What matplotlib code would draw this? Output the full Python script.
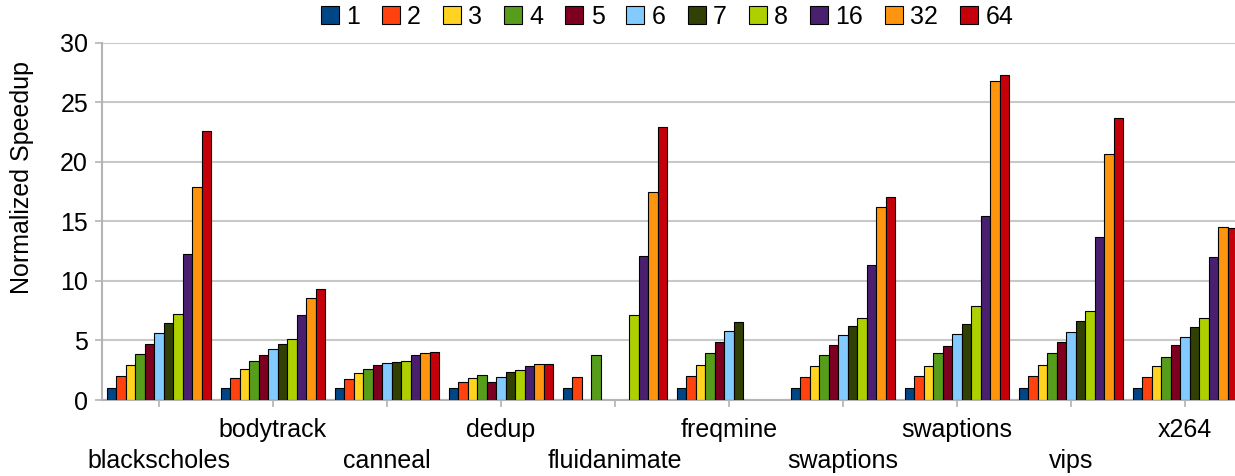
import numpy as np
import matplotlib
matplotlib.use("Agg")
import matplotlib.pyplot as plt

plt.rcParams['font.family'] = ['Liberation Sans', 'DejaVu Sans']

categories = ["blackscholes", "bodytrack", "canneal", "dedup", "fluidanimate",
              "freqmine", "swaptions", "swaptions", "vips", "x264"]
thread_labels = ["1", "2", "3", "4", "5", "6", "7", "8", "16", "32", "64"]

nan = np.nan
blackscholes = [1.0, 1.99, 2.91, 3.83, 4.73, 5.63, 6.44, 7.25, 12.23, 17.88, 22.59]
bodytrack    = [1.0, 1.85, 2.57, 3.25, 3.81, 4.28, 4.70, 5.09, 7.11, 8.59, 9.29]
canneal      = [1.0, 1.76, 2.24, 2.63, 2.91, 3.08, 3.22, 3.30, 3.81, 3.97, 4.06]
dedup        = [1.0, 1.54, 1.88, 2.07, 1.48, 1.96, 2.32, 2.49, 2.83, 2.99, 2.99]
fluidanimate = [1.0, 1.90, nan, 3.75, nan, nan, nan, 7.11, 12.06, 17.44, 22.89]
freqmine     = [1.0, 1.99, 2.94, 3.92, 4.84, 5.77, 6.58, nan, nan, nan, nan]
swaptions_a  = [1.0, 1.96, 2.88, 3.75, 4.59, 5.43, 6.24, 6.91, 11.33, 16.20, 17.04]
swaptions_b  = [1.0, 1.99, 2.88, 3.97, 4.51, 5.51, 6.38, 7.86, 15.42, 26.78, 27.26]
vips         = [1.0, 1.99, 2.97, 3.92, 4.84, 5.74, 6.61, 7.47, 13.66, 20.65, 23.65]
x264         = [1.0, 1.90, 2.85, 3.61, 4.59, 5.29, 6.10, 6.86, 11.98, 14.50, 14.41]

colors = ["#004586", "#ff420e", "#ffd320", "#579d1c", "#7e0021", "#83caff",
          "#314004", "#aecf00", "#4b1f6f", "#ff950e", "#c5000b"]

data = np.array([blackscholes, bodytrack, canneal, dedup, fluidanimate,
                 freqmine, swaptions_a, swaptions_b, vips, x264], dtype=float)

W, H = 1235, 476
FS = 18
AX_H = 357.3
fig = plt.figure(figsize=(W / 100, H / 100), dpi=100)
ax = fig.add_axes([102 / W, 76 / H, 1140 / W, AX_H / H])

n_series = len(thread_labels)
group_w = 0.92
bw = group_w / n_series
x = np.arange(len(categories))
handles = []
for j in range(n_series):
    pos = x - group_w / 2 + bw * (j + 0.5)
    b = ax.bar(pos, data[:, j], width=bw, color=colors[j], edgecolor="black",
               linewidth=0.8, label=thread_labels[j], zorder=3)
    handles.append(b)

ax.set_xlim(-0.5, len(categories) - 0.5)
ax.set_ylim(0, 30)
ax.set_yticks(np.arange(0, 31, 5))
ax.yaxis.grid(True, color="#c8c8c8", linewidth=1.5, zorder=0)
ax.set_axisbelow(True)
for s in ["top", "right"]:
    ax.spines[s].set_visible(False)
for s in ["left", "bottom"]:
    ax.spines[s].set_color("#b4b4b4")
    ax.spines[s].set_linewidth(1.5)
ax.tick_params(axis="y", length=5, width=1.2, color="#b4b4b4", labelsize=FS, pad=5)
ax.tick_params(axis="x", length=5, width=1.2, color="#b4b4b4", labelsize=FS, pad=8)
ax.set_xticks(x)
ax.set_xticklabels([""] * len(categories))

# staggered category labels (two rows)
upper_y = -37 / AX_H
lower_y = -68 / AX_H
trans = ax.get_xaxis_transform()
for i, c in enumerate(categories):
    ax.text(x[i], lower_y if i % 2 == 0 else upper_y, c, transform=trans,
            ha="center", va="baseline", fontsize=FS, clip_on=False)

fig.text(22 / W, 1 - 178 / H, "Normalized Speedup", rotation=90, fontsize=FS,
         ha="center", va="center")

fig.legend(handles=handles, loc="center", bbox_to_anchor=(667 / W, 1 - 17 / H),
           ncol=n_series, frameon=False, fontsize=FS, handlelength=0.72,
           handleheight=0.72, handletextpad=0.3, columnspacing=0.87,
           borderaxespad=0.0, borderpad=0.0)

fig.savefig("out.png", dpi=100)
